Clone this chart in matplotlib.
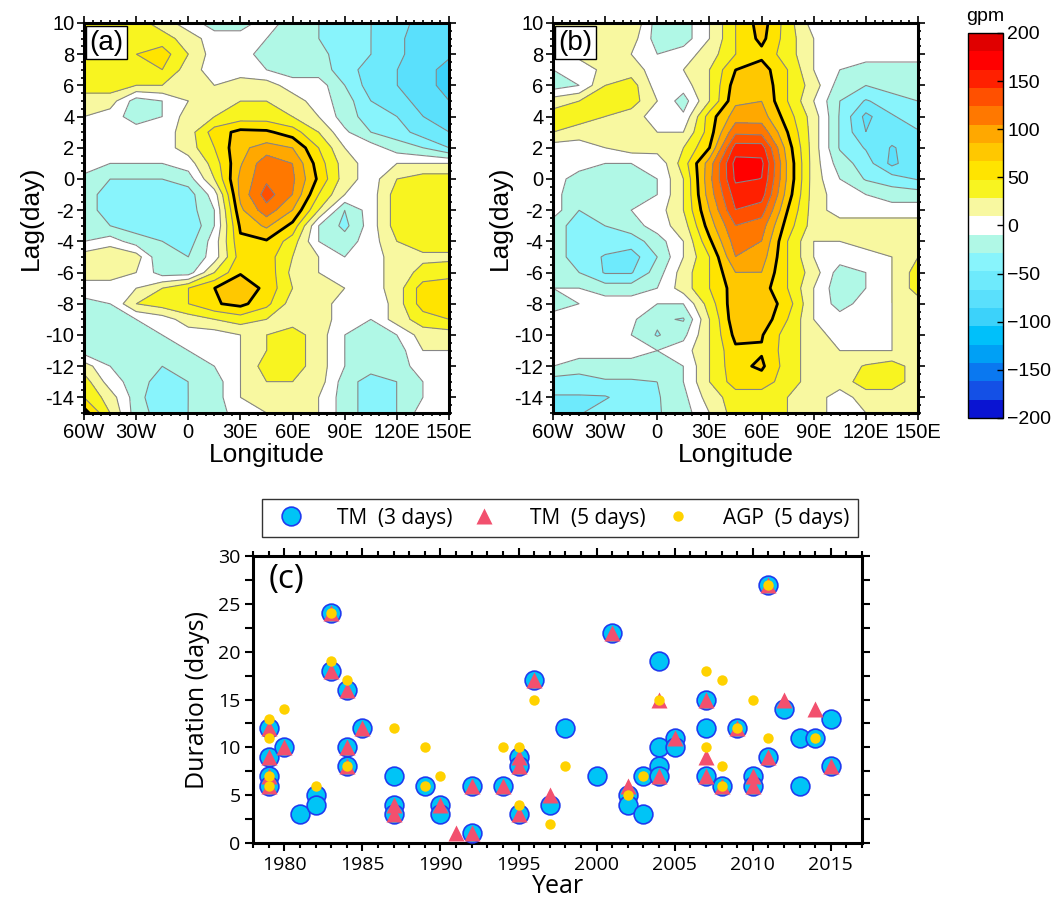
import numpy as np
import matplotlib
matplotlib.use('Agg')
import matplotlib.pyplot as plt
from matplotlib.colors import ListedColormap, BoundaryNorm
from matplotlib.cm import ScalarMappable
from matplotlib.ticker import MultipleLocator
from matplotlib.lines import Line2D

# ---------------- data ----------------
lon = [-60, -45, -30, -15, 0, 15, 30, 45, 60, 75, 90, 105, 120, 135, 150]
lag = [10, 9, 8, 7, 6, 5, 4, 3, 2, 1, 0, -1, -2, -3, -4, -5, -6, -7, -8, -9,
       -10, -11, -12, -13, -14, -15]

# anomalies, in units of roughly one contour interval (19 gpm)
# one row per lag (10 ... -15), one column per longitude (60W ... 150E)
hgt_a = [
    [2, 2, 2, 1, 0, -1, -1, 0, -1, -1.5, -2, -2.5, -3, -4, -4],
    [2, 2, 2, 2, 1, 0, 0, -0.5, -1, -1.5, -2, -2.5, -3.3, -4, -4],
    [2, 2, 2.5, 3, 1.5, 0, 0, -1, -1, -1.2, -2, -2.5, -3.3, -4, -4.3],
    [2, 2, 2, 2.5, 1, 0, 0, -0.5, -1, -1, -2, -3, -3.5, -4, -5],
    [2, 2, 1.5, 1.5, 1, 0.5, 1, 1, 0, 0, -1.5, -3, -3.5, -4, -5],
    [1, 1, -1, -0.5, 0.5, 1, 1.5, 1.5, 1, 0, -1, -2.5, -3.2, -3.8, -4.5],
    [0.5, 0, -1, -0.5, 1, 1.5, 2, 2, 1.5, 0.5, -1, -2, -2.5, -3.5, -4],
    [0.5, 0, 0, 0, 1, 3, 3.8, 3.7, 3, 1.5, -0.3, -1.5, -2, -3, -3.5],
    [0.5, 0, 0, 0, 1, 2.5, 4.3, 4.9, 4.5, 2.5, 0.5, 0, -1, -1.5, -2.5],
    [0.5, -0.5, -0.5, -0.5, 0, 2, 4.4, 6.2, 5.5, 3, 1, 0, 0.5, 0.5, 0.5],
    [-1, -1.5, -1.5, -1.5, -1, 1.5, 4.8, 6.3, 5.7, 3.3, 1, 0, 1.5, 2, 2],
    [-1, -2, -2, -2, -2, 0, 4.8, 7.0, 5.5, 2.5, 0.5, 0, 2, 2, 2],
    [-1, -2, -2.5, -2, -2, -0.5, 4.3, 6.1, 4.5, 1.5, -1.5, 0, 2, 2, 2],
    [-1, -1.5, -2, -2, -2.5, -0.5, 3.7, 4.7, 3.2, -0.5, -1.8, 0, 2, 2, 2],
    [-0.5, 0, -1, -1.5, -2, 0, 3.3, 3.4, 2, -0.5, -1, 0, 1.5, 2, 2],
    [1, 1.5, 1, -1.5, -1.5, 0, 3, 3, 1.5, 0.5, -0.5, 0, 1, 1.3, 1.3],
    [1, 1, 0.5, -1, -1, 1.5, 3.4, 3.2, 1.2, 0.5, -0.5, 0, 1, 1.8, 2],
    [0, 0, 0.5, 1.5, 2.5, 3.5, 4.3, 3.2, 1.5, 1, 0.5, 0, 1, 3, 3.3],
    [-0.8, -0.5, 1.5, 2, 2.5, 3.4, 3.8, 2.8, 1, 1, 0, -0.5, 1, 3, 3.5],
    [-1, -1, -0.5, 0, 1, 1.5, 2, 1.5, 1, 1, 0, -0.5, 1, 2, 2.5],
    [-1.5, -1, -1, -0.5, 0, 0, 0.5, 1.5, 2, 1, -0.5, -1, -0.5, 1, 1],
    [-1, -1, -1.5, -1, -0.5, 0, 0.5, 1.5, 2, 1, -0.5, -1.5, -1, 0.5, 0.5],
    [1, -0.5, -1, -1.5, -1, -0.5, 0.5, 2, 2, 1, -0.5, -1, -1, 0, 0],
    [2, 0, -1, -2, -1.5, -1, 0.5, 1.5, 1.5, 1, -1, -2, -1.5, -0.5, 0],
    [2.5, 1, -1, -2.5, -1.5, -1, 0.5, 1, 1, 0.5, -1, -2, -1.5, -0.5, -0.5],
    [4, 1.5, -1, -2, -1.5, -1, 0, 0.5, 1, 0.5, -1, -2, -1.5, 0, 0],
]

hgt_b = [
    [1, 1, 1.5, 1.5, -1, -1, 0.5, 2.5, 4, 2, 0, 0, 0, 0, 0.5],
    [1, 1, 1.5, 1, -1, -1, 0.5, 2.5, 3.8, 2, 0.5, 0, 0, 0, 0],
    [1, 1, 1, 0.5, -0.5, 0, 1, 2.5, 3.2, 2, 0.5, 0, 0, 0, 0],
    [-0.5, -0.5, 1, 1, 0, 0.5, 1.5, 3.5, 4, 2.5, 0.5, -0.5, -1, -1, -1],
    [-1, -0.5, 1.5, 2, 0, 0, 1.5, 4, 4.3, 2.5, 1, -1, -1.5, -1, -1],
    [1, 1.5, 2, 2, 0.5, -1, 1.5, 4.3, 4.5, 2.5, 0.5, -1.5, -2.6, -2, -1.5],
    [2, 2, 1.5, 1, 0, -0.3, 3, 5, 5, 3, 1, -1.6, -3.8, -2.6, -2],
    [1.5, 1, 1, 1, 0.5, 0.5, 3, 6.3, 6.2, 3.5, 1, -1.6, -3.5, -3, -2.6],
    [0, 0, 0.5, 1, 1, 1.5, 3.5, 8, 8, 4, 1, -1.6, -2.6, -3.6, -3],
    [0, 0, -0.5, -0.5, -0.3, 2, 5, 8.9, 8.8, 4.3, 1, -1, -2, -3.8, -2.6],
    [0, -1, -1, -1, -0.5, 1.5, 5.2, 8.7, 8.5, 4.3, 1, -0.5, -1.6, -2, -2.6],
    [0, -1.5, -1.5, -1, -0.5, 1.5, 5, 8, 8, 4, 1, 0, -0.5, -1, -1],
    [0, -1.5, -1.5, -0.5, 0, 1.5, 4.5, 7.5, 7, 3.5, 1, 0, 0, 0, 0],
    [-1, -2, -1.5, -1, 0, 1, 4, 6.5, 6, 3, 1, 1, 1, 1, 1],
    [-1, -2, -2, -2, -1, 0.5, 3.3, 6, 5.5, 2.5, 0.5, 0.5, 1, 1, 1],
    [-1, -2, -2.6, -3, -1.5, 0.5, 2.5, 5.5, 5, 2.5, 0.5, 0, 0, 0.5, 1.5],
    [-1, -1.5, -2.6, -2.6, -1, 1, 2.5, 4.5, 4.5, 2.5, 1, -1, -0.5, 0.5, 2],
    [-0.5, -0.5, -1, -1, -0.5, 1, 2.5, 4, 4, 2.5, 0.5, -1.2, -0.5, 0.5, 2],
    [-1, -0.5, 0, 0, -0.5, -0.5, 2, 4.2, 4.3, 3, 0.5, -1, 0, 0.5, 1],
    [0, 0, 0, -0.3, -1.3, -1.6, 1.5, 4.2, 4.2, 2.5, 0.5, 0, 0, 0.5, 1],
    [0, 0, 0, -0.5, -1.6, -0.8, 1.5, 3.8, 3.6, 2, 1, 0, 0, 0.5, 1],
    [0, 0, 0, 0, -0.5, 0, 1.5, 3.3, 3.4, 2, 1, 0.5, 0.5, 0.5, 1],
    [-0.5, -1, -1, -1, -1, -0.5, 1.5, 3.2, 3.7, 2, 1, 1, 1.6, 2, 1],
    [-2, -2, -1.6, -1.6, -1.5, -0.5, 1.5, 3, 3, 2, 1, 1, 2, 2, 1],
    [-2.6, -2.6, -2.6, -2, -1.6, -0.8, 1, 2, 2, 1.5, 1, 0, 1, 1, 1],
    [-2.6, -2.6, -2, -2, -1.6, -1, 0.5, 2, 2, 1.5, 1, 0, 0.5, 1, 1],
]

lon_ticks = [-60, -30, 0, 30, 60, 90, 120, 150]
lon_labels = ['60W', '30W', '0', '30E', '60E', '90E', '120E', '150E']
lag_ticks = [-14, -12, -10, -8, -6, -4, -2, 0, 2, 4, 6, 8, 10]
cbar_ticks = [-200, -150, -100, -50, 0, 50, 100, 150, 200]

shade_colors = ['#0A14D2', '#1450E6', '#0A78F0', '#00A0F5', '#00C0FA',
                '#3CD2FA', '#5AE0FC', '#6EEAFC', '#88F4FC', '#B0F8E6',
                '#FFFFFF', '#F8F8A0', '#F8F420', '#FFE400', '#FFC800',
                '#FFA800', '#FF7800', '#FF5000', '#FF2000', '#FF0000',
                '#E00000']

# duration of events (panel c)
tm3_year = [1979, 1979, 1979, 1979, 1980, 1981, 1982, 1982, 1983, 1983, 1984, 1984,
            1984, 1985, 1987, 1987, 1987, 1989, 1990, 1990, 1992, 1992, 1994, 1995,
            1995, 1995, 1996, 1997, 1998, 2000, 2001, 2002, 2002, 2003, 2003, 2004,
            2004, 2004, 2004, 2005, 2005, 2007, 2007, 2007, 2008, 2009, 2010, 2010,
            2011, 2011, 2012, 2013, 2013, 2014, 2015, 2015]
tm3_days = [12, 9, 7, 6, 10, 3, 5, 4, 24, 18, 16, 10, 8, 12, 7, 4, 3, 6, 4, 3, 6, 1,
            6, 9, 8, 3, 17, 4, 12, 7, 22, 5, 4, 7, 3, 19, 10, 8, 7, 11, 10, 15, 12,
            7, 6, 12, 7, 6, 27, 9, 14, 11, 6, 11, 13, 8]

tm5_year = [1979, 1979, 1979, 1979, 1980, 1983, 1983, 1984, 1984, 1984, 1985, 1987,
            1987, 1990, 1991, 1992, 1992, 1994, 1995, 1995, 1995, 1996, 1997, 2001,
            2002, 2004, 2004, 2005, 2007, 2007, 2007, 2008, 2009, 2010, 2010, 2011,
            2011, 2012, 2014, 2015]
tm5_days = [12, 9, 7, 6, 10, 24, 18, 16, 10, 8, 12, 4, 3, 4, 1, 6, 1, 6, 9, 8, 3,
            17, 5, 22, 6, 15, 7, 11, 15, 9, 7, 6, 12, 7, 6, 27, 9, 15, 14, 8]

agp_year = [1979, 1979, 1979, 1979, 1980, 1982, 1983, 1983, 1984, 1984, 1987, 1989,
            1989, 1990, 1994, 1995, 1995, 1996, 1997, 1998, 2002, 2003, 2004, 2007,
            2007, 2008, 2008, 2008, 2009, 2010, 2011, 2011, 2014]
agp_days = [13, 11, 7, 6, 14, 6, 24, 19, 17, 8, 12, 10, 6, 7, 10, 10, 4, 15, 2, 8,
            5, 7, 15, 18, 10, 17, 8, 6, 12, 15, 27, 11, 11]

# ---------------- styling ----------------
map_font = 'Liberation Sans'
line_font = 'Open Sans'
unit = 19.0                       # gpm per unit of the tables above
bounds = np.linspace(-200, 200, 22)
bold_level = bounds[14]
cmap = ListedColormap(shade_colors)
norm = BoundaryNorm(bounds, cmap.N)

fig = plt.figure(figsize=(10.57, 9.09), dpi=100)


def draw_map(ax, rows, tag):
    z = np.array(rows, dtype=float)[::-1] * unit
    y = lag[::-1]
    ax.contourf(lon, y, z, levels=bounds, cmap=cmap, norm=norm)
    ax.contour(lon, y, z, levels=bounds, colors='#868686', linewidths=0.8,
               linestyles='solid')
    ax.contour(lon, y, z, levels=[bold_level], colors='k', linewidths=2.0,
               linestyles='solid')
    ax.set_xlim(-60, 150)
    ax.set_ylim(-15, 10)
    ax.set_xticks(lon_ticks)
    ax.set_xticklabels(lon_labels, fontsize=14.5, family=map_font)
    ax.set_yticks(lag_ticks)
    ax.set_yticklabels([str(v) for v in lag_ticks], fontsize=14.5, family=map_font)
    ax.xaxis.set_minor_locator(MultipleLocator(5))
    ax.yaxis.set_minor_locator(MultipleLocator(0.5))
    ax.tick_params(which='both', direction='out', top=True, right=True, width=1.2)
    ax.tick_params(which='major', length=5, pad=2)
    ax.tick_params(which='minor', length=2.5)
    ax.tick_params(axis='x', labeltop=False)
    ax.tick_params(axis='y', labelright=False)
    for s in ax.spines.values():
        s.set_linewidth(2.2)
    ax.set_xlabel('Longitude', fontsize=19, family=map_font, labelpad=1)
    ax.set_ylabel('Lag(day)', fontsize=19, family=map_font, labelpad=2)
    ax.text(0.015, 0.983, tag, transform=ax.transAxes, ha='left', va='top',
            fontsize=20, family=map_font, zorder=5,
            bbox=dict(boxstyle='square,pad=0.12', fc='white', ec='black', lw=1))


ax_a = fig.add_axes([0.0795, 0.5457, 0.3453, 0.429])
draw_map(ax_a, hgt_a, '(a)')
ax_b = fig.add_axes([0.5232, 0.5457, 0.3453, 0.429])
draw_map(ax_b, hgt_b, '(b)')

# colour bar
cax = fig.add_axes([0.9158, 0.5402, 0.0331, 0.4235])
cb = fig.colorbar(ScalarMappable(norm=norm, cmap=cmap), cax=cax,
                  boundaries=bounds, ticks=cbar_ticks)
cb.outline.set_linewidth(1.0)
cb.ax.tick_params(direction='in', length=4, width=1, labelsize=14, pad=3)
cb.ax.set_yticklabels([str(v) if v >= 0 else '\u2212' + str(-v) for v in cbar_ticks],
                      family=map_font)
cb.ax.minorticks_off()
fig.text(0.932, 0.972, 'gpm', ha='center', va='bottom', fontsize=14, family=map_font)

# ---------------- panel (c) ----------------
ax_c = fig.add_axes([0.2394, 0.0726, 0.5762, 0.3157])
ax_c.plot(tm3_year, tm3_days, 'o', ms=13.5, mfc='#00C4F6', mec='#1E3CF0', mew=1.2,
          ls='none', zorder=3)
ax_c.plot(tm5_year, tm5_days, '^', ms=11, mfc='#F2506E', mec='none', ls='none',
          zorder=4)
ax_c.plot(agp_year, agp_days, 'o', ms=7.5, mfc='#FFD200', mec='none', ls='none',
          zorder=5)
ax_c.set_xlim(1978, 2017)
ax_c.set_ylim(0, 30)
ax_c.xaxis.set_major_locator(MultipleLocator(5))
ax_c.xaxis.set_minor_locator(MultipleLocator(1))
ax_c.yaxis.set_major_locator(MultipleLocator(5))
ax_c.yaxis.set_minor_locator(MultipleLocator(2.5))
ax_c.tick_params(which='both', direction='out', top=True, right=True, width=1.5)
ax_c.tick_params(which='major', length=6, labelsize=14, pad=3)
ax_c.tick_params(which='minor', length=3.5)
ax_c.tick_params(axis='y', which='minor', right=True, length=6)
for t in ax_c.get_xticklabels() + ax_c.get_yticklabels():
    t.set_family(line_font)
for s in ax_c.spines.values():
    s.set_linewidth(2.2)
ax_c.set_xlabel('Year', fontsize=18, family=line_font, labelpad=0)
ax_c.set_ylabel('Duration (days)', fontsize=18, family=line_font, labelpad=6)
ax_c.text(0.025, 0.975, '(c)', transform=ax_c.transAxes, ha='left', va='top',
          fontsize=24, family=line_font)

handles = [
    Line2D([], [], marker='o', ls='none', ms=13.5, mfc='#00C4F6', mec='#1E3CF0', mew=1.2),
    Line2D([], [], marker='^', ls='none', ms=11, mfc='#F2506E', mec='none'),
    Line2D([], [], marker='o', ls='none', ms=7.5, mfc='#FFD200', mec='none'),
]
labels = ['TM  (3 days)', 'TM  (5 days)', 'AGP  (5 days)']
leg = fig.legend(handles, labels, loc='lower left',
                 bbox_to_anchor=(0.2479, 0.4092, 0.5639, 0.0418), mode='expand',
                 ncol=3, borderaxespad=0, frameon=True, fancybox=False,
                 edgecolor='black', handletextpad=1.2, borderpad=0.4,
                 prop={'family': line_font, 'size': 15})
leg.get_frame().set_linewidth(1.0)

fig.savefig('out.png', dpi=100)
